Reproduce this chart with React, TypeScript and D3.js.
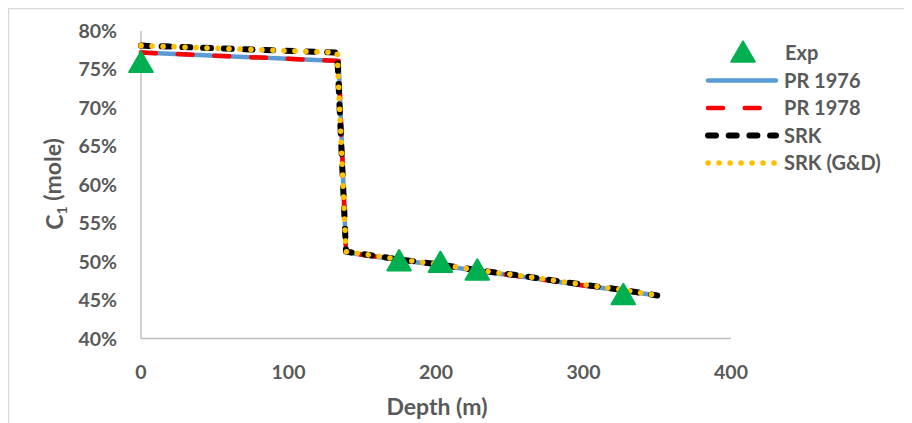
import React from 'react';
import * as d3 from 'd3';

// depth (m) and C1 mole fraction (%)
const expDepth = [0, 175, 203, 228, 327];
const expC1 = [75.8, 50.0, 49.8, 48.8, 45.6];

const pr76Depth = [0, 134, 139, 175, 203, 228, 260, 300, 327, 350];
const pr76C1 = [77.2, 76.1, 51.2, 50.2, 49.5, 48.8, 48.0, 46.9, 46.2, 45.6];

const pr78Depth = [0, 134, 139, 175, 203, 228, 260, 300, 327, 350];
const pr78C1 = [77.2, 76.1, 51.2, 50.2, 49.5, 48.8, 48.0, 46.9, 46.2, 45.6];

const srkDepth = [0, 133, 139, 175, 203, 228, 260, 300, 327, 350];
const srkC1 = [78.1, 77.2, 51.3, 50.3, 49.6, 48.9, 48.1, 47.0, 46.3, 45.6];

const gdDepth = [0, 133, 139, 175, 203, 228, 260, 300, 327, 350];
const gdC1 = [78.1, 77.2, 51.3, 50.3, 49.6, 48.9, 48.1, 47.0, 46.3, 45.6];

const xTicks = [0, 100, 200, 300, 400];
const yTicks = [40, 45, 50, 55, 60, 65, 70, 75, 80];

const series = [
  { name: 'PR 1976', depth: pr76Depth, c1: pr76C1, color: '#5B9BD5', width: 4.5, dash: null, cap: 'round' },
  { name: 'PR 1978', depth: pr78Depth, c1: pr78C1, color: '#FF0000', width: 4.5, dash: '15 21.7', cap: 'round' },
  { name: 'SRK', depth: srkDepth, c1: srkC1, color: '#000000', width: 6, dash: '8 12.7', cap: 'round' },
  { name: 'SRK (G&D)', depth: gdDepth, c1: gdC1, color: '#FFC000', width: 5.5, dash: '0.1 10.9', cap: 'round' },
];

const W = 904;
const H = 415;
const font = 'Lato, "Open Sans", sans-serif';
const textColor = '#595959';

export default function App() {
  const x = d3.scaleLinear().domain([0, 400]).range([133, 723]);
  const y = d3.scaleLinear().domain([40, 80]).range([330.5, 23]);

  const tri = d3.symbol().type(d3.symbolTriangle).size(240);

  const legendX = 700;
  const legendY0 = 45;
  const legendStep = 27.5;

  return (
    <svg width={W} height={H} style={{ display: 'block', background: '#fff' }}>
      <rect x={0.5} y={0.5} width={W + 20} height={H + 20} fill="#fff" stroke="#D9D9D9" strokeWidth={1.5} />

      {/* axes */}
      <line x1={x(0)} x2={x(0)} y1={y(80)} y2={y(40)} stroke="#BFBFBF" strokeWidth={1.5} />
      <line x1={x(0)} x2={x(400)} y1={y(40)} y2={y(40)} stroke="#BFBFBF" strokeWidth={1.5} />

      {yTicks.map((t) => (
        <text key={t} x={109} y={y(t)} dy="0.36em" textAnchor="end" fontFamily={font} fontWeight={700} fontSize={19.5} fill={textColor}>
          {t}%
        </text>
      ))}
      {xTicks.map((t) => (
        <text key={t} x={x(t)} y={364} dy="0.36em" textAnchor="middle" fontFamily={font} fontWeight={700} fontSize={19.5} fill={textColor}>
          {t}
        </text>
      ))}

      <text x={x(200) + 1} y={399} dy="0.36em" textAnchor="middle" fontFamily={font} fontWeight={700} fontSize={23} fill={textColor}>
        Depth (m)
      </text>
      <text transform={`translate(47,176) rotate(-90)`} textAnchor="middle" dy="0.36em" fontFamily={font} fontWeight={700} fontSize={23} fill={textColor}>
        C<tspan fontSize={14} dy="0.3em">1</tspan><tspan dy="-0.3em"> (mole)</tspan>
      </text>

      {/* model lines */}
      {series.map((s) => {
        const line = d3
          .line<number>()
          .x((d) => x(d))
          .y((d, i) => y(s.c1[i]));
        return (
          <path
            key={s.name}
            d={line(s.depth) || ''}
            fill="none"
            stroke={s.color}
            strokeWidth={s.width}
            strokeDasharray={s.dash || undefined}
            strokeLinecap={s.cap as any}
            strokeLinejoin="round"
          />
        );
      })}

      {/* experimental points */}
      {expDepth.map((d, i) => (
        <path key={i} d={tri() || ''} transform={`translate(${x(d)},${y(expC1[i]) + 2})`} fill="#00B050" stroke="#00B050" strokeWidth={2} strokeLinejoin="round" />
      ))}

      {/* legend */}
      <g>
        <path d={tri() || ''} transform={`translate(${legendX + 35},${legendY0 + 2})`} fill="#00B050" stroke="#00B050" strokeWidth={2} strokeLinejoin="round" />
        <text x={legendX + 77} y={legendY0} dy="0.36em" fontFamily={font} fontWeight={700} fontSize={20} fill={textColor}>
          Exp
        </text>
        {series.map((s, i) => {
          const ly = legendY0 + legendStep * (i + 1);
          return (
            <g key={s.name}>
              <line
                x1={legendX}
                x2={legendX + 68}
                y1={ly}
                y2={ly}
                stroke={s.color}
                strokeWidth={s.width}
                strokeDasharray={s.dash || undefined}
                strokeLinecap={s.cap as any}
              />
              <text x={legendX + 76} y={ly} dy="0.36em" fontFamily={font} fontWeight={700} fontSize={20} fill={textColor}>
                {s.name}
              </text>
            </g>
          );
        })}
      </g>
    </svg>
  );
}
